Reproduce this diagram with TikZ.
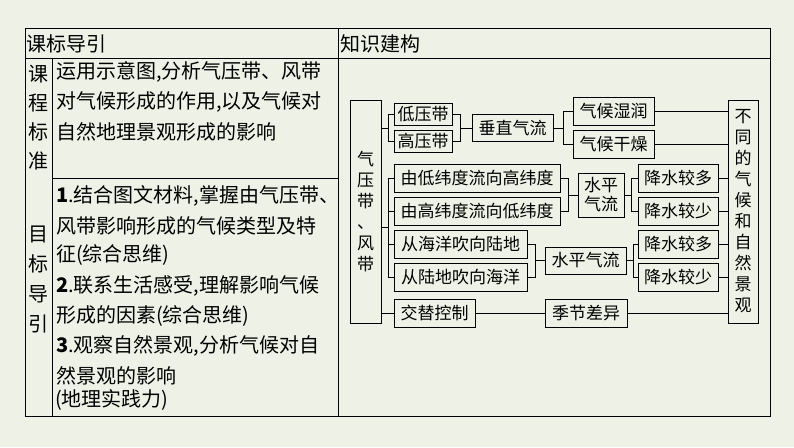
\documentclass[tikz,border=0pt]{standalone}
\usepackage{fontspec}
\setmainfont{Noto Sans CJK SC}
\begin{document}
\begin{tikzpicture}[x=1pt,y=-1pt,
  bx/.style={draw,line width=0.9pt,inner sep=0pt,font=\fontsize{17}{17}\selectfont},
  ln/.style={line width=0.9pt},
  tx/.style={anchor=west,inner sep=0pt,font=\fontsize{20}{20}\selectfont}]
\fill[fill={rgb,255:red,238;green,242;blue,230}] (0,0) rectangle (794,447);
\useasboundingbox (0,0) rectangle (794,447);
% table
\draw[line width=1pt] (25,28) rectangle (770,416);
\draw[line width=0.8pt] (25,58) -- (770,58) (338,28) -- (338,416) (52,58) -- (52,416) (52,178) -- (338,178);
\node[tx] (h1) at (26,44) {课标导引};
\node[tx] (h2) at (340,44) {知识建构};
\node[tx,anchor=center,align=center,font=\fontsize{20}{29}\selectfont] (k1) at (38.5,118) {课\\程\\标\\准};
\node[tx,anchor=center,align=center,font=\fontsize{20}{30}\selectfont] (k2) at (38.5,280) {目\\标\\导\\引};
\node[tx] (t1a) at (56,72) {运用示意图,分析气压带、风带};
\node[tx] (t1b) at (56,102) {对气候形成的作用,以及气候对};
\node[tx] (t1c) at (56,132) {自然地理景观形成的影响};
\node[tx] (t2a) at (56,196) {\textbf{1}.结合图文材料,掌握由气压带、};
\node[tx] (t2b) at (56,226) {风带影响形成的气候类型及特};
\node[tx] (t2c) at (56,255) {征(综合思维)};
\node[tx] (t2d) at (56,286) {\textbf{2}.联系生活感受,理解影响气候};
\node[tx] (t2e) at (56,316) {形成的因素(综合思维)};
\node[tx] (t2f) at (56,346) {\textbf{3}.观察自然景观,分析气候对自};
\node[tx] (t2g) at (56,376) {然景观的影响};
\node[tx] (t3) at (55,400) {(地理实践力)};
% diagram
\node[bx,minimum width=31,minimum height=223,align=center,font=\fontsize{17}{21}\selectfont] (L) at (365.5,211.5) {气\\压\\带\\、\\风\\带};
\node[bx,minimum width=30,minimum height=223,align=center,font=\fontsize{17}{21}\selectfont] (R) at (743,211.5) {不\\同\\的\\气\\候\\和\\自\\然\\景\\观};
\node[bx,minimum width=58,minimum height=22] (a1) at (423,114) {低压带};
\node[bx,minimum width=58,minimum height=22] (a2) at (423,141) {高压带};
\node[bx,minimum width=81,minimum height=27] (v) at (512.5,128) {垂直气流};
\node[bx,minimum width=81,minimum height=28] (c1) at (613.5,111) {气候湿润};
\node[bx,minimum width=81,minimum height=28] (c2) at (613.5,144) {气候干燥};
\node[bx,minimum width=166,minimum height=28] (b1) at (477,178) {由低纬度流向高纬度};
\node[bx,minimum width=166,minimum height=28] (b2) at (477,211) {由高纬度流向低纬度};
\node[bx,minimum width=46,minimum height=44,align=center,font=\fontsize{17}{19}\selectfont] (h) at (601,195) {水平\\气流};
\node[bx,minimum width=80,minimum height=28] (p1) at (678,178) {降水较多};
\node[bx,minimum width=80,minimum height=28] (p2) at (678,211) {降水较少};
\node[bx,minimum width=133,minimum height=28] (d1) at (460.5,244) {从海洋吹向陆地};
\node[bx,minimum width=133,minimum height=28] (d2) at (460.5,277.5) {从陆地吹向海洋};
\node[bx,minimum width=81,minimum height=27] (h2n) at (585.5,260.5) {水平气流};
\node[bx,minimum width=80,minimum height=28] (q1) at (678,244) {降水较多};
\node[bx,minimum width=80,minimum height=28] (q2) at (678,277.5) {降水较少};
\node[bx,minimum width=81,minimum height=28] (e1) at (434.5,313) {交替控制};
\node[bx,minimum width=82,minimum height=28] (e2) at (586,313) {季节差异};
% connectors
\draw[ln] (L.east |- 0,128) -- (388,128);
\draw[ln] (a1.east) -- (460,114) -- (460,141) -- (a2.east);
\draw[ln] (388,114) -- (a1.west); \draw[ln] (388,114) -- (388,141) -- (a2.west);
\draw[ln] (460,128) -- (v.west);
\draw[ln] (v.east) -- (563,128);
\draw[ln] (c1.west) -- (563,111) -- (563,144) -- (c2.west);
\draw[ln] (c1.east) -- (c1.east -| R.west);
\draw[ln] (c2.east) -- (c2.east -| R.west);
\draw[ln] (L.east |- 0,227) -- (388,227);
\draw[ln] (b1.west) -- (388,178) -- (388,277.5) -- (d2.west);
\draw[ln] (b2.west) -- (388,211); \draw[ln] (d1.west) -- (388,244);
\draw[ln] (b1.east) -- (568,178) -- (568,211) -- (b2.east);
\draw[ln] (568,195) -- (h.west);
\draw[ln] (h.east) -- (631,195);
\draw[ln] (p1.west) -- (631,178) -- (631,211) -- (p2.west);
\draw[ln] (p1.east) -- (p1.east -| R.west);
\draw[ln] (p2.east) -- (p2.east -| R.west);
\draw[ln] (d1.east) -- (535,244) -- (535,277.5) -- (d2.east);
\draw[ln] (535,260.5) -- (h2n.west);
\draw[ln] (h2n.east) -- (633,260.5);
\draw[ln] (q1.west) -- (633,244) -- (633,277.5) -- (q2.west);
\draw[ln] (q1.east) -- (q1.east -| R.west);
\draw[ln] (q2.east) -- (q2.east -| R.west);
\draw[ln] (L.east |- e1.west) -- (e1.west);
\draw[ln] (e1.east) -- (e2.west);
\draw[ln] (e2.east) -- (e2.east -| R.west);
\end{tikzpicture}
\end{document}
